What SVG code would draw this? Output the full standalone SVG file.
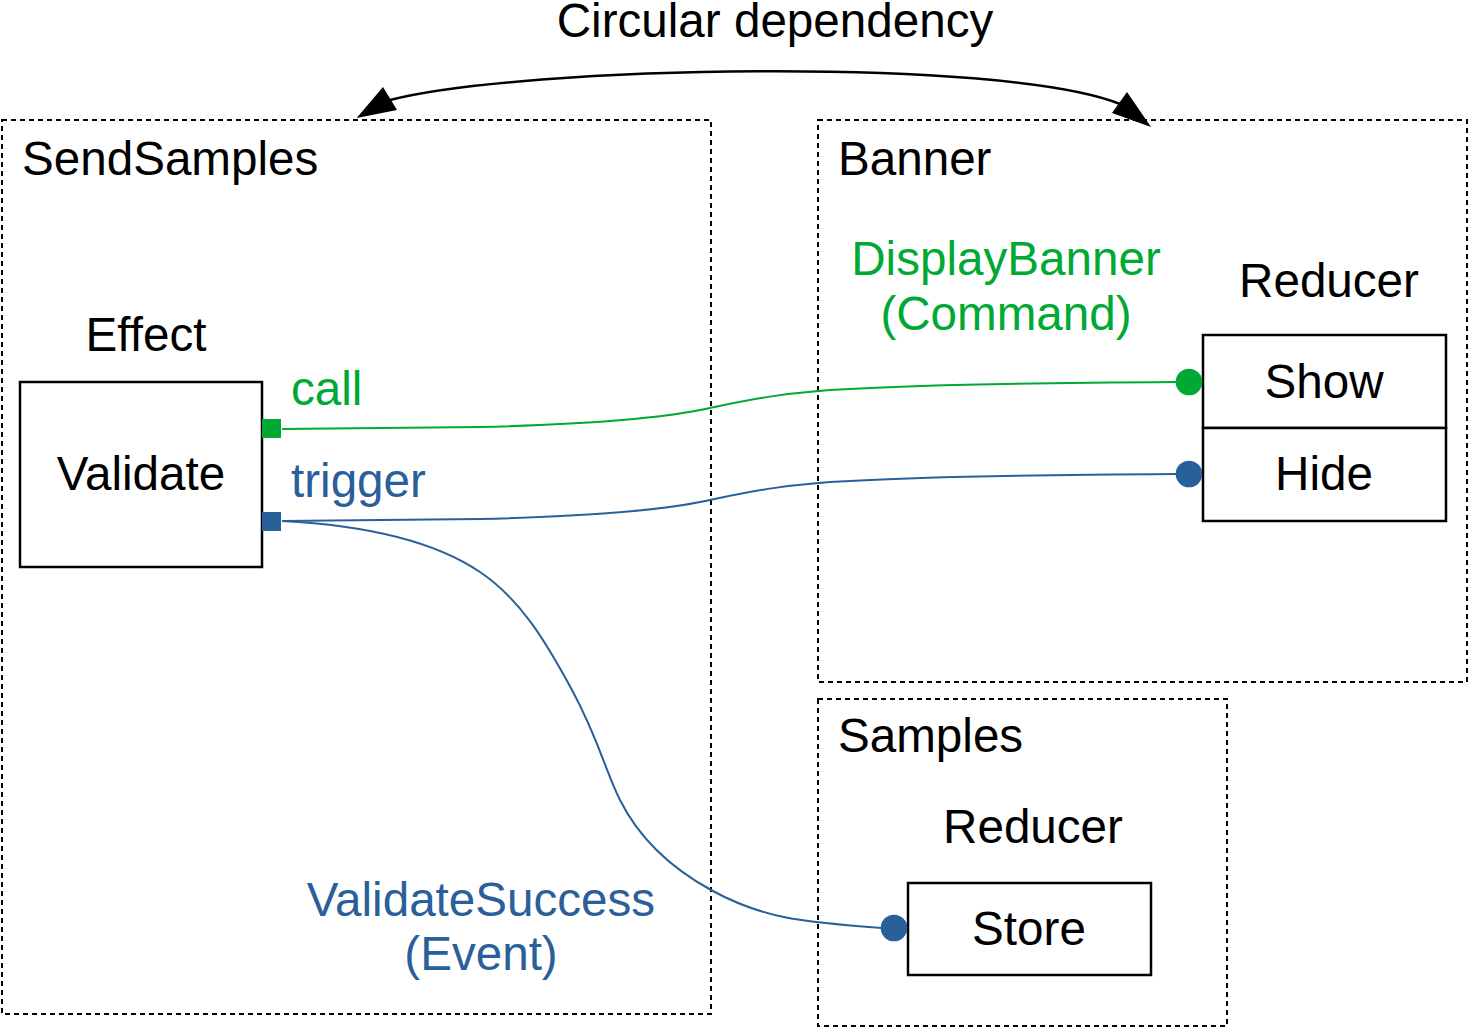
<svg xmlns="http://www.w3.org/2000/svg" width="1468" height="1029" viewBox="0 0 1468 1029">
<style>
text{font-family:"Liberation Sans",Arial,sans-serif;font-size:47.6px;fill:#000}
.g{fill:#00A933}
.b{fill:#2A6099}
.mid{text-anchor:middle}
.frame{fill:none;stroke:#000;stroke-width:2;stroke-dasharray:5 4}
.box{fill:#fff;stroke:#000;stroke-width:2.5}
.cg{fill:none;stroke:#00A933;stroke-width:2}
.cb{fill:none;stroke:#2A6099;stroke-width:2}
.arc{fill:none;stroke:#000;stroke-width:2.5}
.head{fill:#000}
</style>
<rect width="1468" height="1029" fill="#fff"/>
<g id="sendsamples">
<rect class="frame" x="2" y="120" width="709" height="894"/>
<text x="22" y="175">SendSamples</text>
</g>
<g id="banner">
<rect class="frame" x="818" y="120" width="649" height="562"/>
<text x="838" y="175">Banner</text>
</g>
<g id="samples">
<rect class="frame" x="818" y="699" width="409" height="327"/>
<text x="838" y="752">Samples</text>
</g>
<g id="title">
<text class="mid" x="775" y="37">Circular dependency</text>
</g>
<g id="effect">
<text class="mid" x="146" y="351">Effect</text>
<rect class="box" x="20" y="382" width="242" height="185"/>
<text class="mid" x="141" y="490">Validate</text>
</g>
<g id="banner-reducer">
<text class="mid" x="1329" y="297">Reducer</text>
<rect class="box" x="1203" y="335" width="243" height="93"/>
<text class="mid" x="1324" y="398">Show</text>
<rect class="box" x="1203" y="428" width="243" height="93"/>
<text class="mid" x="1324" y="490">Hide</text>
</g>
<g id="samples-reducer">
<text class="mid" x="1033" y="843">Reducer</text>
<rect class="box" x="908" y="883" width="243" height="92"/>
<text class="mid" x="1029" y="945">Store</text>
</g>
<g id="connectors">
<path class="arc" d="M390,100 C520,66 1000,56 1120,104"/>
<polygon class="head" points="356.7,118 383,87 397,110"/>
<polygon class="head" points="1151,127 1127,92 1112,113"/>
<path class="cg" d="M282,429 L480,427 C560,425 650,420 700,410 C740,402 780,392 850,389 C900,386 1000,383 1176,382"/>
<path class="cb" d="M282,521 L480,519 C560,517 650,512 700,502 C740,494 780,484 850,481 C900,478 1000,475 1176,474"/>
<path class="cb" d="M282,521 C380,526 440,545 480,572 S545,640 572,690 S605,770 620,800 S660,862 711,890 S800,922 882,928"/>
<rect x="262" y="419" width="19" height="19" fill="#00A933"/>
<rect x="262" y="512" width="19" height="19" fill="#2A6099"/>
<circle cx="1189" cy="382" r="13.3" fill="#00A933"/>
<circle cx="1189" cy="474" r="13.3" fill="#2A6099"/>
<circle cx="894" cy="928" r="13.3" fill="#2A6099"/>
<text class="g" x="291" y="405">call</text>
<text class="b" x="291" y="497">trigger</text>
<text class="g mid" x="1006" y="275">DisplayBanner</text>
<text class="g mid" x="1006" y="330">(Command)</text>
<text class="b mid" x="481" y="916">ValidateSuccess</text>
<text class="b mid" x="481" y="970">(Event)</text>
</g>
</svg>
